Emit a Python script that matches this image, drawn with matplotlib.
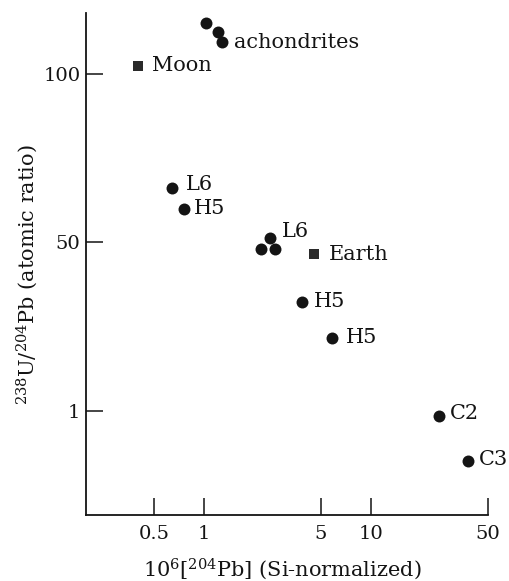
import matplotlib
matplotlib.use("Agg")
import matplotlib.pyplot as plt
from matplotlib.ticker import NullLocator, FixedLocator, FixedFormatter

# 陨石样品 (圆点)
met_x = [1.03, 1.21, 1.27, 0.64, 0.76, 2.47, 2.18, 2.65, 3.83, 5.86, 25.4, 37.8]
met_y = [201, 178, 155, 21.2, 15.9, 10.7, 9.2, 9.2, 4.4, 2.72, 0.93, 0.50]

# 行星 (方块)
planet_x = [0.40, 4.52]
planet_y = [112, 8.5]

# 文字标注 (锚点为对应数据点)
label_text = ["achondrites", "Moon", "L6", "H5", "L6", "Earth", "H5", "H5", "C2", "C3"]
label_x = [1.27, 0.40, 0.64, 0.76, 2.47, 4.52, 3.83, 5.86, 25.4, 37.8]
label_y = [155, 112, 21.2, 15.9, 10.7, 8.5, 4.4, 2.72, 0.93, 0.50]
label_dx = [9, 10, 10, 7, 9, 11, 9, 10, 8, 8]
label_dy = [0, 0, 2, 0, 4, 0, 1, 0, 2, 1]

# 坐标轴刻度 (标签按原图照录)
xticks = [0.5, 1, 5, 10, 50]
xtick_labels = ["0.5", "1", "5", "10", "50"]
yticks = [1, 10, 100]
ytick_labels = ["1", "50", "100"]

plt.rcParams['font.family'] = ['DejaVu Serif']
plt.rcParams['mathtext.fontset'] = 'dejavuserif'

fig = plt.figure(figsize=(5.10, 5.81), dpi=100)
ax = fig.add_axes([0.1686, 0.1136, 0.7882, 0.864])

ink = '#141414'
ax.plot(met_x, met_y, 'o', color=ink, markersize=8.6, markeredgewidth=0)
ax.plot(planet_x, planet_y, 's', color='#2a2a2a', markersize=7.8, markeredgewidth=0)

for t, x, y, dx, dy in zip(label_text, label_x, label_y, label_dx, label_dy):
    ax.annotate(t, (x, y), xytext=(dx, dy), textcoords='offset points',
                ha='left', va='center', fontsize=15, color=ink)

ax.set_xscale('log')
ax.set_yscale('log')
ax.set_xlim(0.196, 50)
ax.set_ylim(0.24, 231)

ax.xaxis.set_major_locator(FixedLocator(xticks))
ax.xaxis.set_major_formatter(FixedFormatter(xtick_labels))
ax.yaxis.set_major_locator(FixedLocator(yticks))
ax.yaxis.set_major_formatter(FixedFormatter(ytick_labels))
ax.xaxis.set_minor_locator(NullLocator())
ax.yaxis.set_minor_locator(NullLocator())

ax.spines['top'].set_visible(False)
ax.spines['right'].set_visible(False)
for s in ['left', 'bottom']:
    ax.spines[s].set_linewidth(1.3)
    ax.spines[s].set_color(ink)

ax.tick_params(axis='x', direction='in', length=12, width=1.1, pad=7,
               labelsize=14, colors=ink)
ax.tick_params(axis='y', direction='in', length=12, width=1.1, pad=4,
               labelsize=14, colors=ink)

ax.set_xlabel(r'10$^{6}$[$^{204}$Pb] (Si-normalized)', fontsize=15, color=ink)
ax.set_ylabel(r'$^{238}$U/$^{204}$Pb (atomic ratio)', fontsize=15, color=ink)
ax.xaxis.set_label_coords(0.488, -0.083)
ax.yaxis.set_label_coords(-0.115, 0.478)

fig.savefig('out.png', dpi=100)
